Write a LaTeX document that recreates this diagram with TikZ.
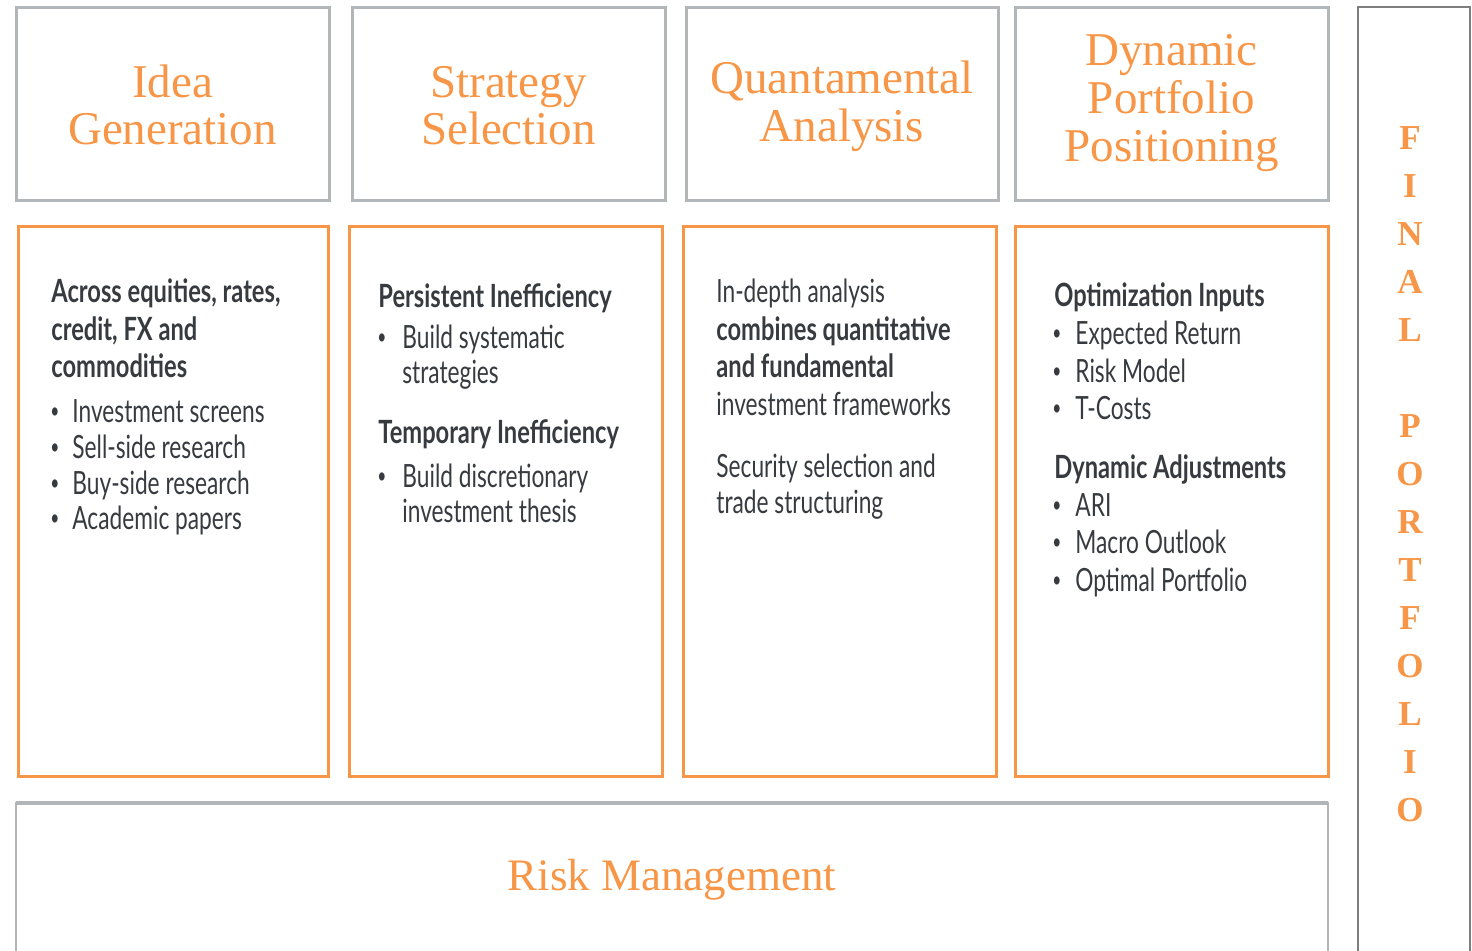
\documentclass[tikz,border=0pt]{standalone}
\usepackage{fontspec}
\setmainfont{Liberation Serif}
\newfontfamily\condfont[FakeStretch=0.71]{Lato}
\newfontfamily\condbold[FakeStretch=0.74]{Lato}
\definecolor{accent}{HTML}{F79646}
\definecolor{boxgray}{HTML}{B3B6B9}
\definecolor{darkgray}{HTML}{7F7F7F}
\definecolor{txtdark}{HTML}{373B40}
\tikzset{
  hdrbox/.style={draw=boxgray, line width=1.5pt},
  bodybox/.style={draw=accent, line width=1.5pt},
  ttl/.style={anchor=base, inner sep=0pt, text=accent, font=\fontsize{23.5}{24}\selectfont},
  vlet/.style={anchor=base, inner sep=0pt, text=accent, font=\bfseries\fontsize{17.5}{17.5}\selectfont},
  bt/.style={anchor=base west, inner sep=0pt, text=txtdark, font=\condfont\fontsize{16}{16}\selectfont},
  bb/.style={bt, font=\condbold\bfseries\fontsize{16}{16}\selectfont},
  dot/.style={anchor=center, inner sep=0pt, text=txtdark, font=\condfont\fontsize{11}{11}\selectfont},
}
\begin{document}
\begin{tikzpicture}[x=0.5pt, y=-0.5pt]
\useasboundingbox (0,0) rectangle (1472,950);
\fill[white] (0,0) rectangle (1472,950);
% header boxes
\draw[hdrbox] (16,7) rectangle (329,200);
\draw[hdrbox] (352,7) rectangle (665,200);
\draw[hdrbox] (686,7) rectangle (998,200);
\draw[hdrbox] (1015,7) rectangle (1328,200);
% body boxes
\draw[bodybox] (18,226) rectangle (328,776);
\draw[bodybox] (349,226) rectangle (662,776);
\draw[bodybox] (683,226) rectangle (996,776);
\draw[bodybox] (1015,226) rectangle (1328,776);
% risk box
\draw[draw=boxgray, line width=1pt] (16,960) -- (16,803) -- (1328,803) -- (1328,960);
\draw[draw=boxgray, line width=2pt] (16,803) -- (1328,803);
% final portfolio box
\draw[draw=darkgray, line width=1pt] (1358,960) -- (1358,7) -- (1470,7) -- (1470,960);

% titles
\node[ttl] (t1a) at (172.5,97) {Idea};
\node[ttl] (t1b) at (172.5,144) {Generation};
\node[ttl] (t2a) at (508.5,97) {Strategy};
\node[ttl] (t2b) at (508.5,144) {Selection};
\node[ttl] (t3a) at (842,93) {Quantamental};
\node[ttl] (t3b) at (842,141) {Analysis};
\node[ttl] (t4a) at (1171.5,65) {Dynamic};
\node[ttl] (t4b) at (1171.5,113) {Portfolio};
\node[ttl] (t4c) at (1171.5,161) {Positioning};
\node[ttl, font=\fontsize{22.5}{24}\selectfont] (risk) at (672,890) {Risk Management};

% column 1
\node[bb] (c1a) at (51,302) {Across equities, rates,};
\node[bb] (c1b) at (51,340) {credit, FX and};
\node[bb] (c1c) at (51,377) {commodities};
\foreach \y/\t [count=\i] in {422/Investment screens,458/Sell-side research,494/Buy-side research,529/Academic papers}{
  \node[dot] (c1d\i) at (55,\y-9) {\textbullet};
  \node[bt] (c1t\i) at (72,\y) {\t};
}
% column 2
\node[bb] (c2a) at (378,307) {Persistent Inefficiency};
\node[dot] (c2d1) at (382,339) {\textbullet};
\node[bt] (c2b) at (402,348) {Build systematic};
\node[bt] (c2c) at (402,383) {strategies};
\node[bb] (c2e) at (378,443) {Temporary Inefficiency};
\node[dot] (c2d2) at (382,478) {\textbullet};
\node[bt] (c2f) at (402,487) {Build discretionary};
\node[bt] (c2g) at (402,522) {investment thesis};
% column 3
\node[bt] (c3a) at (716,302) {In-depth analysis};
\node[bb] (c3b) at (716,340) {combines quantitative};
\node[bb] (c3c) at (716,377) {and fundamental};
\node[bt] (c3d) at (716,415) {investment frameworks};
\node[bt] (c3e) at (716,477) {Security selection and};
\node[bt] (c3f) at (716,513) {trade structuring};
% column 4
\node[bb] (c4a) at (1054,306) {Optimization Inputs};
\foreach \y/\t [count=\i] in {344/Expected Return,382/Risk Model,419/T-Costs}{
  \node[dot] (c4d\i) at (1057,\y-9) {\textbullet};
  \node[bt] (c4t\i) at (1075,\y) {\t};
}
\node[bb] (c4b) at (1054,478) {Dynamic Adjustments};
\foreach \y/\t [count=\i] in {516/ARI,553/Macro Outlook,591/Optimal Portfolio}{
  \node[dot] (c4e\i) at (1057,\y-9) {\textbullet};
  \node[bt] (c4u\i) at (1075,\y) {\t};
}
% final portfolio letters
\foreach \y/\l [count=\i] in {149/F,197/I,245/N,293/A,341/L,437/P,485/O,533/R,581/T,629/F,677/O,725/L,773/I,821/O}{
  \node[vlet] (fp\i) at (1410,\y) {\l};
}
\end{tikzpicture}
\end{document}
